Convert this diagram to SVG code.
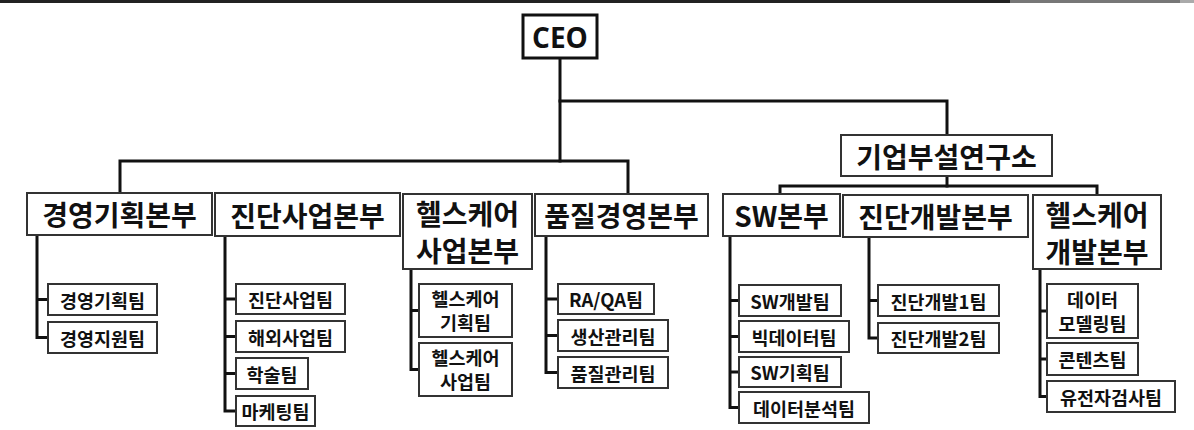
<svg xmlns="http://www.w3.org/2000/svg" width="1194" height="430" viewBox="0 0 1194 430">
<style>
  .box { fill: #ffffff; stroke: #333333; stroke-width: 2; }
  .ceo { fill: #ffffff; stroke: #111111; stroke-width: 3; }
  .ln { fill: none; stroke: #111111; stroke-width: 3; stroke-linecap: square; }
  text { font-family: "Noto Sans CJK KR", "Noto Sans", sans-serif; font-weight: 700; fill: #111111; text-anchor: middle; dominant-baseline: central; }
  .div { font-size: 28px; }
  .team { font-size: 18.5px; }
  .ceot { font-family: "Open Sans", "Noto Sans", sans-serif; font-size: 28px; }
</style>
<rect x="0" y="0" width="1194" height="430" fill="#ffffff"/>
<g id="topline">
  <line x1="0" y1="1.5" x2="1010" y2="1.5" stroke="#222222" stroke-width="3"/>
  <line x1="1010" y1="1.5" x2="1180" y2="1.5" stroke="#777777" stroke-width="3"/>
  <line x1="1180" y1="1.5" x2="1194" y2="1.5" stroke="#aaaaaa" stroke-width="3"/>
</g>
<g id="connectors">
  <path class="ln" d="M560 58 V161"/>
  <path class="ln" d="M560 101 H947 V135"/>
  <path class="ln" d="M120 193 V161 H628 V194"/>
  <path class="ln" d="M947 176 V186"/>
  <path class="ln" d="M780 194 V186 H1097 V195"/>
  <path class="ln" d="M37 235 V337.5 H48 M37 299.5 H48"/>
  <path class="ln" d="M225 236 V411 H236 M225 299 H236 M225 336.5 H236 M225 373.5 H236"/>
  <path class="ln" d="M411 269 V369.5 H419 M411 310.5 H419"/>
  <path class="ln" d="M546 236 V372.5 H558 M546 299 H558 M546 335.5 H558"/>
  <path class="ln" d="M730 236 V407.5 H739 M730 300.5 H739 M730 336.5 H739 M730 372 H739"/>
  <path class="ln" d="M869 237 V338 H878 M869 300.5 H878"/>
  <path class="ln" d="M1040 269 V396.5 H1047 M1040 311 H1047 M1040 359 H1047"/>
</g>
<g id="ceo">
  <rect class="ceo" x="523" y="15" width="74" height="43"/>
  <text class="ceot" x="560" y="37">CEO</text>
</g>
<g id="lab">
  <rect class="box" x="841" y="135" width="211" height="41"/>
  <text class="div" x="946.5" y="156">기업부설연구소</text>
</g>
<g id="div1">
  <rect class="box" x="27" y="193" width="185" height="42"/>
  <text class="div" x="119.5" y="214">경영기획본부</text>
</g>
<g id="div2">
  <rect class="box" x="215" y="193" width="185" height="43"/>
  <text class="div" x="307.5" y="214.5">진단사업본부</text>
</g>
<g id="div3">
  <rect class="box" x="403" y="194" width="129" height="75"/>
  <text class="div" x="467.5" y="213">헬스케어</text>
  <text class="div" x="467.5" y="250">사업본부</text>
</g>
<g id="div4">
  <rect class="box" x="535" y="194" width="173" height="42"/>
  <text class="div" x="621.5" y="215">품질경영본부</text>
</g>
<g id="div5">
  <rect class="box" x="723" y="194" width="117" height="42"/>
  <text class="div" x="781.5" y="215">SW본부</text>
</g>
<g id="div6">
  <rect class="box" x="843" y="195" width="185" height="42"/>
  <text class="div" x="935.5" y="216">진단개발본부</text>
</g>
<g id="div7">
  <rect class="box" x="1033" y="195" width="128" height="74"/>
  <text class="div" x="1097" y="214">헬스케어</text>
  <text class="div" x="1097" y="251">개발본부</text>
</g>
<g id="t1"><rect class="box" x="48" y="284" width="109" height="31"/><text class="team" x="102.5" y="299.5">경영기획팀</text></g>
<g id="t2"><rect class="box" x="48" y="322" width="109" height="31"/><text class="team" x="102.5" y="337.5">경영지원팀</text></g>
<g id="t3"><rect class="box" x="236" y="284" width="109" height="30"/><text class="team" x="290.5" y="299">진단사업팀</text></g>
<g id="t4"><rect class="box" x="236" y="321" width="109" height="31"/><text class="team" x="290.5" y="336.5">해외사업팀</text></g>
<g id="t5"><rect class="box" x="236" y="358" width="72" height="31"/><text class="team" x="272" y="373.5">학술팀</text></g>
<g id="t6"><rect class="box" x="236" y="396" width="79" height="30"/><text class="team" x="275.5" y="411">마케팅팀</text></g>
<g id="t7"><rect class="box" x="419" y="284" width="93" height="53"/><text class="team" x="465.5" y="298">헬스케어</text><text class="team" x="465.5" y="322">기획팀</text></g>
<g id="t8"><rect class="box" x="419" y="343" width="93" height="53"/><text class="team" x="465.5" y="357">헬스케어</text><text class="team" x="465.5" y="381">사업팀</text></g>
<g id="t9"><rect class="box" x="558" y="284" width="96" height="30"/><text class="team" x="606" y="299">RA/QA팀</text></g>
<g id="t10"><rect class="box" x="558" y="320" width="110" height="31"/><text class="team" x="613" y="335.5">생산관리팀</text></g>
<g id="t11"><rect class="box" x="558" y="357" width="110" height="31"/><text class="team" x="613" y="372.5">품질관리팀</text></g>
<g id="t12"><rect class="box" x="739" y="285" width="102" height="31"/><text class="team" x="790" y="300.5">SW개발팀</text></g>
<g id="t13"><rect class="box" x="739" y="321" width="110" height="31"/><text class="team" x="794" y="336.5">빅데이터팀</text></g>
<g id="t14"><rect class="box" x="739" y="357" width="102" height="30"/><text class="team" x="790" y="372">SW기획팀</text></g>
<g id="t15"><rect class="box" x="739" y="392" width="130" height="31"/><text class="team" x="804" y="407.5">데이터분석팀</text></g>
<g id="t16"><rect class="box" x="878" y="285" width="121" height="31"/><text class="team" x="938.5" y="300.5">진단개발1팀</text></g>
<g id="t17"><rect class="box" x="878" y="323" width="121" height="30"/><text class="team" x="938.5" y="338">진단개발2팀</text></g>
<g id="t18"><rect class="box" x="1047" y="284" width="91" height="54"/><text class="team" x="1092.5" y="298.5">데이터</text><text class="team" x="1092.5" y="323">모델링팀</text></g>
<g id="t19"><rect class="box" x="1047" y="343" width="91" height="32"/><text class="team" x="1092.5" y="359">콘텐츠팀</text></g>
<g id="t20"><rect class="box" x="1047" y="381" width="128" height="31"/><text class="team" x="1111" y="396.5">유전자검사팀</text></g>
</svg>
